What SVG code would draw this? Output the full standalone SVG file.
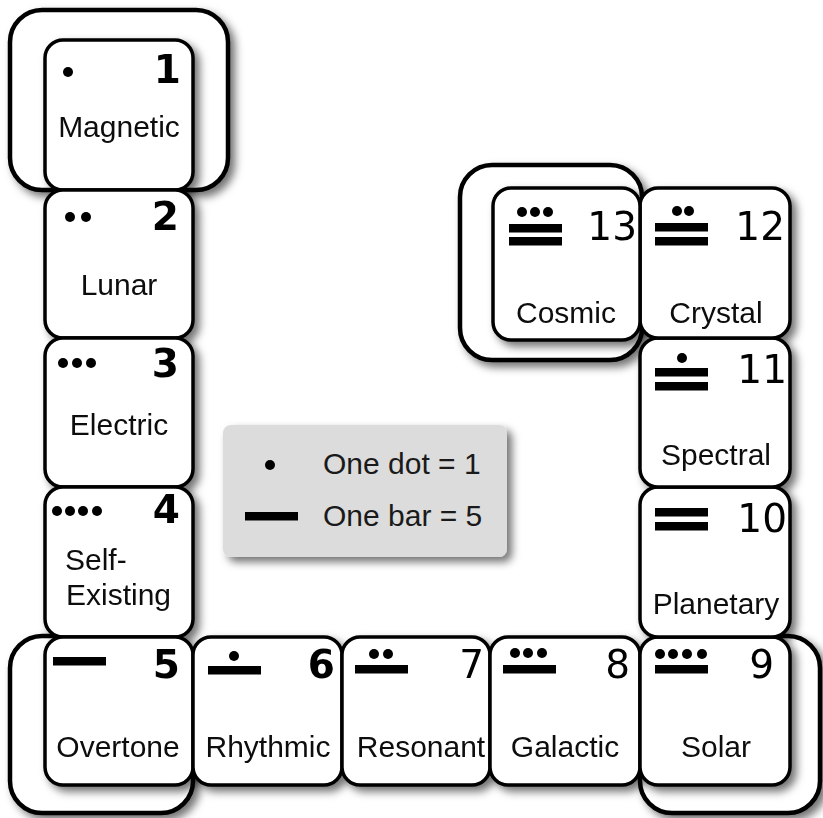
<svg xmlns="http://www.w3.org/2000/svg" width="823" height="818" viewBox="0 0 823 818">
<style>
.frame{fill:#fff;stroke:#000;stroke-width:4.5}
.tile{fill:#fff;stroke:#000;stroke-width:3.5}
.lbl{font-family:"Liberation Sans",Arial,sans-serif;font-size:30px;fill:#0d0d0d;text-anchor:middle}
.num{font-family:"DejaVu Sans",sans-serif;font-size:39px;fill:#000;text-anchor:end}
.b{font-weight:bold}
.leg{font-family:"Liberation Sans",Arial,sans-serif;font-size:30px;fill:#1a1a1a}
</style>
<defs>
<filter id="sh" x="-20%" y="-20%" width="150%" height="150%">
<feDropShadow dx="5" dy="5" stdDeviation="4" flood-color="#000" flood-opacity="0.55"/>
</filter>
<g id="dot"><circle r="5" fill="#000"/></g>
<rect id="bar" width="53" height="8.5" fill="#000"/>
</defs>
<rect width="823" height="818" fill="#fff"/>
<g id="frames" filter="url(#sh)">
<rect class="frame" x="10" y="10" width="218" height="180" rx="32"/>
<rect class="frame" x="460" y="165" width="182" height="195" rx="32"/>
<rect class="frame" x="10" y="636" width="183" height="177" rx="32"/>
<rect class="frame" x="640" y="636" width="180" height="177" rx="32"/>
</g>
<g id="legend">
<rect x="223" y="425" width="284" height="132" rx="8" fill="#dcdcdc" filter="url(#sh)"/>
<use href="#dot" x="270" y="465"/>
<text class="leg" x="323" y="474">One dot = 1</text>
<rect x="245" y="512" width="53" height="8.5" fill="#000"/>
<text class="leg" x="323" y="526">One bar = 5</text>
</g>
<g id="connectors"></g>
<g filter="url(#sh)">
<g id="n1"><rect class="tile" x="45" y="40" width="148" height="150" rx="18"/>
<use href="#dot" x="68" y="72"/>
<text class="num b" x="181" y="83">1</text><text class="lbl" x="119" y="137">Magnetic</text></g>
<g id="n2"><rect class="tile" x="45" y="190" width="148" height="148" rx="18"/>
<use href="#dot" x="70" y="217"/><use href="#dot" x="86" y="217"/>
<text class="num b" x="179" y="230">2</text><text class="lbl" x="119" y="295">Lunar</text></g>
<g id="n3"><rect class="tile" x="45" y="338" width="148" height="149" rx="18"/>
<use href="#dot" x="63" y="363"/><use href="#dot" x="77" y="363"/><use href="#dot" x="91" y="363"/>
<text class="num b" x="179" y="377">3</text><text class="lbl" x="119" y="435">Electric</text></g>
<g id="n4"><rect class="tile" x="45" y="487" width="148" height="150" rx="18"/>
<use href="#dot" x="57" y="511"/><use href="#dot" x="70" y="511"/><use href="#dot" x="83" y="511"/><use href="#dot" x="97" y="511"/>
<text class="num b" x="180" y="523">4</text>
<text class="lbl" style="text-anchor:start" x="65" y="570">Self-</text>
<text class="lbl" style="text-anchor:start" x="66" y="605">Existing</text></g>
<g id="n5"><rect class="tile" x="45" y="637" width="148" height="148" rx="18"/>
<use href="#bar" x="53" y="657"/>
<text class="num b" x="180" y="678">5</text><text class="lbl" x="118" y="757">Overtone</text></g>
<g id="n6"><rect class="tile" x="193" y="637" width="149" height="148" rx="18"/>
<use href="#dot" x="234" y="656"/><use href="#bar" x="208" y="666"/>
<text class="num b" x="335" y="678">6</text><text class="lbl" x="268" y="757">Rhythmic</text></g>
<g id="n7"><rect class="tile" x="342" y="637" width="148" height="148" rx="18"/>
<use href="#dot" x="374" y="654"/><use href="#dot" x="388" y="654"/><use href="#bar" x="355" y="665"/>
<text class="num" x="484" y="678">7</text><text class="lbl" x="421" y="757">Resonant</text></g>
<g id="n8"><rect class="tile" x="490" y="637" width="150" height="148" rx="18"/>
<use href="#dot" x="515" y="653"/><use href="#dot" x="528" y="653"/><use href="#dot" x="542" y="653"/><use href="#bar" x="503" y="665"/>
<text class="num" x="630" y="678">8</text><text class="lbl" x="565" y="757">Galactic</text></g>
<g id="n9"><rect class="tile" x="640" y="637" width="150" height="148" rx="18"/>
<use href="#dot" x="660" y="654"/><use href="#dot" x="673" y="654"/><use href="#dot" x="687" y="654"/><use href="#dot" x="702" y="654"/><use href="#bar" x="655" y="665"/>
<text class="num" x="774" y="678">9</text><text class="lbl" x="716" y="757">Solar</text></g>
<g id="n10"><rect class="tile" x="640" y="487" width="150" height="150" rx="18"/>
<use href="#bar" x="655" y="508"/><use href="#bar" x="655" y="522"/>
<text class="num" x="787" y="532">10</text><text class="lbl" x="716" y="614">Planetary</text></g>
<g id="n11"><rect class="tile" x="640" y="338" width="150" height="149" rx="18"/>
<use href="#dot" x="682" y="358"/><use href="#bar" x="655" y="368"/><use href="#bar" x="655" y="382"/>
<text class="num" x="787" y="383">11</text><text class="lbl" x="716" y="465">Spectral</text></g>
<g id="n12"><rect class="tile" x="640" y="188" width="150" height="150" rx="18"/>
<use href="#dot" x="677" y="211"/><use href="#dot" x="689" y="211"/><use href="#bar" x="655" y="223"/><use href="#bar" x="655" y="237"/>
<text class="num" x="785" y="240">12</text><text class="lbl" x="716" y="323">Crystal</text></g>
<g id="n13"><rect class="tile" x="493" y="188" width="147" height="152" rx="18"/>
<use href="#dot" x="522" y="212"/><use href="#dot" x="535" y="212"/><use href="#dot" x="548" y="212"/><use href="#bar" x="509" y="224"/><use href="#bar" x="509" y="237"/>
<text class="num" x="637" y="240">13</text><text class="lbl" x="566" y="323">Cosmic</text></g>
</g>
<rect x="226" y="802" width="383" height="16" fill="#fff"/>
</svg>
